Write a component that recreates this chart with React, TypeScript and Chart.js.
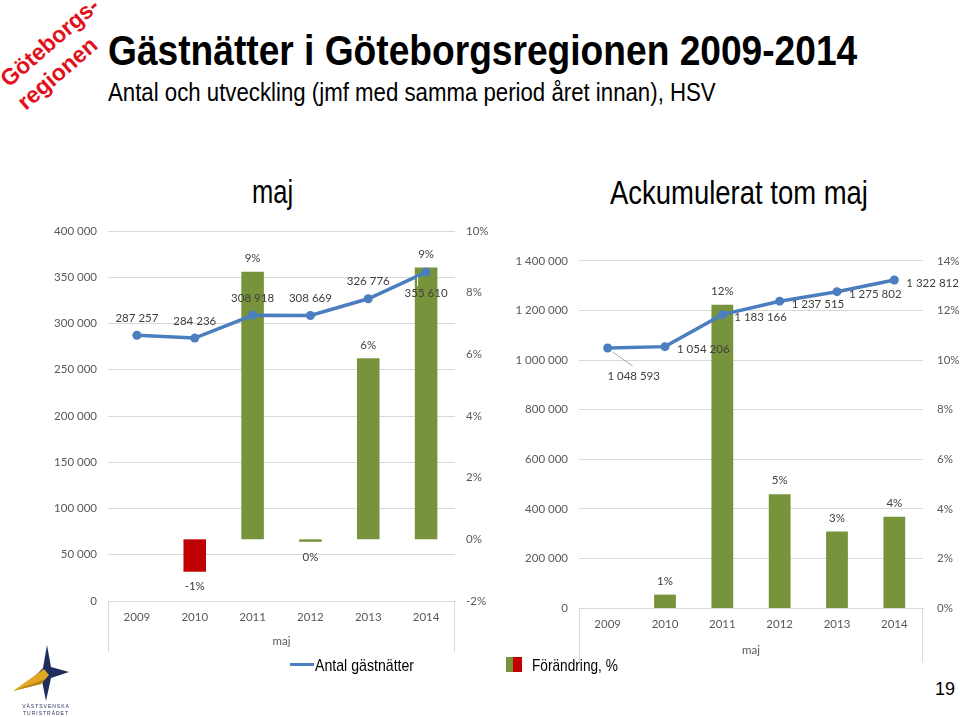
import React, { useEffect, useLayoutEffect, useRef } from 'react';
import { Chart, registerables } from 'chart.js';

Chart.register(...registerables);

// ---------- data ----------
const years = ['2009', '2010', '2011', '2012', '2013', '2014'];
const majNights = [287257, 284236, 308918, 308669, 326776, 355610];
const majChange = [null, -1.05, 8.68, -0.08, 5.87, 8.82];
const accNights = [1048593, 1054206, 1183166, 1237515, 1275802, 1322812];
const accChange = [null, 0.54, 12.23, 4.59, 3.09, 3.68];

const majNightsAxis = [0, 400000, 50000];
const majChangeAxis = [-2, 10, 2];
const accNightsAxis = [0, 1400000, 200000];
const accChangeAxis = [0, 14, 2];

const majLineLabelPos = ['above', 'above', 'above', 'above', 'above', 'below'];
const accLineLabelPos = ['leader', 'right', 'right', 'right', 'right', 'right'];

const axisCategoryTitle = 'maj';
const lineSeriesName = 'Antal gästnätter';
const barSeriesName = 'Förändring, %';

// ---------- styles ----------
const BLUE = '#4A7EBF';
const GREEN = '#77933C';
const RED = '#C00000';
const GRID = '#D9D9D9';
const TICK = '#595959';
const LABEL = '#404040';
const FONT = 'Lato';

const majBarColors = [GREEN, RED, GREEN, GREEN, GREEN, GREEN];
const accBarColors = [GREEN, GREEN, GREEN, GREEN, GREEN, GREEN];

function fmt(n: number) {
  return String(Math.round(n)).replace(/\B(?=(\d{3})+(?!\d))/g, ' ');
}

const slidePlugin = {
  id: 'slideLabels',
  afterDatasetsDraw(chart: any, _args: any, opts: any) {
    const ctx = chart.ctx;
    ctx.save();
    ctx.font = `11.5px ${FONT}`;
    ctx.fillStyle = LABEL;
    ctx.textBaseline = 'middle';
    const barMeta = chart.getDatasetMeta(1);
    const barData = chart.data.datasets[1].data;
    barMeta.data.forEach((el: any, i: number) => {
      const v = barData[i];
      if (v == null) return;
      ctx.textAlign = 'center';
      const t = `${Math.round(v)}%`;
      ctx.fillText(t, el.x, v >= 0 ? el.y - 13.5 : el.y + 15);
    });
    const lineMeta = chart.getDatasetMeta(0);
    const lineData = chart.data.datasets[0].data;
    const pos: string[] = opts.linePos || [];
    lineMeta.data.forEach((el: any, i: number) => {
      const t = fmt(lineData[i]);
      const p = pos[i];
      if (p === 'above') {
        ctx.textAlign = 'center';
        ctx.fillText(t, el.x, el.y - 17);
      } else if (p === 'below') {
        ctx.strokeStyle = '#FFFFFF';
        ctx.lineWidth = 1;
        ctx.beginPath();
        ctx.moveTo(el.x - 8.5, el.y + 5);
        ctx.lineTo(el.x - 8.5, el.y + 14);
        ctx.stroke();
        ctx.textAlign = 'center';
        ctx.fillText(t, el.x, el.y + 21);
      } else if (p === 'right') {
        ctx.textAlign = 'left';
        ctx.fillText(t, el.x + 12, el.y + 3);
      } else if (p === 'leader') {
        ctx.strokeStyle = '#A6A6A6';
        ctx.lineWidth = 1;
        ctx.beginPath();
        ctx.moveTo(el.x + 5, el.y + 4);
        ctx.lineTo(el.x + 25, el.y + 18);
        ctx.stroke();
        ctx.textAlign = 'center';
        ctx.fillText(t, el.x + 26, el.y + 28);
      }
    });
    ctx.restore();
  },
  afterDraw(chart: any, _args: any, opts: any) {
    const ctx = chart.ctx;
    const a = chart.chartArea;
    ctx.save();
    ctx.strokeStyle = GRID;
    ctx.lineWidth = 1;
    ctx.beginPath();
    const l = Math.round(a.left) + 0.5;
    const r = Math.round(a.right) - 0.5;
    ctx.moveTo(l, a.bottom);
    ctx.lineTo(l, a.bottom + opts.sepLen);
    ctx.moveTo(r, a.bottom);
    ctx.lineTo(r, a.bottom + opts.sepLen);
    ctx.stroke();
    ctx.font = `11.5px ${FONT}`;
    ctx.fillStyle = TICK;
    ctx.textAlign = 'center';
    ctx.textBaseline = 'middle';
    ctx.fillText(axisCategoryTitle, (a.left + a.right) / 2, a.bottom + opts.titleOffset);
    ctx.restore();
  },
};

type Cfg = {
  nights: number[];
  change: (number | null)[];
  barColors: string[];
  yAxis: number[];
  y1Axis: number[];
  yWidth: number;
  y1Width: number;
  y1Pad: number;
  topPad: number;
  xHeight: number;
  linePos: string[];
  sepLen: number;
  titleOffset: number;
  barPct: number;
};

function ComboChart({ cfg, left, top, width, height }: { cfg: Cfg; left: number; top: number; width: number; height: number }) {
  const ref = useRef<HTMLCanvasElement>(null);
  useEffect(() => {
    const canvas = ref.current!;
    const chart = new Chart(canvas, {
      type: 'bar',
      data: {
        labels: years,
        datasets: [
          {
            type: 'line',
            label: lineSeriesName,
            data: cfg.nights,
            yAxisID: 'y',
            borderColor: BLUE,
            backgroundColor: BLUE,
            borderWidth: 3.5,
            pointRadius: 4.5,
            pointBackgroundColor: BLUE,
            pointBorderWidth: 0,
            tension: 0,
            order: 0,
          } as any,
          {
            type: 'bar',
            label: barSeriesName,
            data: cfg.change,
            yAxisID: 'y1',
            backgroundColor: cfg.barColors,
            barPercentage: cfg.barPct,
            categoryPercentage: 1,
            order: 1,
          } as any,
        ],
      },
      options: {
        responsive: false,
        animation: false,
        layout: { padding: { top: cfg.topPad, left: 0, right: 0, bottom: 0 } },
        plugins: {
          legend: { display: false },
          tooltip: { enabled: false },
          title: { display: false },
          slideLabels: { linePos: cfg.linePos, sepLen: cfg.sepLen, titleOffset: cfg.titleOffset },
        } as any,
        scales: {
          x: {
            type: 'category',
            offset: true,
            grid: { display: false, drawTicks: false },
            border: { display: true, color: GRID },
            ticks: { color: TICK, font: { family: FONT, size: 11.5 }, padding: 9, maxRotation: 0 },
            afterFit: (s: any) => { s.height = cfg.xHeight; },
          },
          y: {
            position: 'left',
            min: cfg.yAxis[0],
            max: cfg.yAxis[1],
            ticks: { stepSize: cfg.yAxis[2], color: TICK, font: { family: FONT, size: 11.5 }, padding: 11, callback: (v: any) => fmt(Number(v)) },
            grid: { color: GRID, drawTicks: false },
            border: { display: false },
            afterFit: (s: any) => { s.width = cfg.yWidth; },
          },
          y1: {
            position: 'right',
            min: cfg.y1Axis[0],
            max: cfg.y1Axis[1],
            ticks: { stepSize: cfg.y1Axis[2], color: TICK, font: { family: FONT, size: 11.5 }, padding: cfg.y1Pad, callback: (v: any) => `${v}%` },
            grid: { display: false, drawTicks: false },
            border: { display: false },
            afterFit: (s: any) => { s.width = cfg.y1Width; },
          },
        },
      } as any,
      plugins: [slidePlugin as any],
    });
    return () => chart.destroy();
  }, []);
  return <canvas ref={ref} width={width} height={height} style={{ position: 'absolute', left, top, width, height }} />;
}

function FitText({ text, left, baseline, width, size, weight = 400, color = '#000', rotate = 0, center = false }: any) {
  const ref = useRef<HTMLSpanElement>(null);
  const asc = 0.8465 * size;
  useLayoutEffect(() => {
    const el = ref.current!;
    el.style.transform = 'none';
    const w = el.offsetWidth;
    const s = w > 0 ? width / w : 1;
    el.style.transform = `${rotate ? `rotate(${rotate}deg) ` : ''}scaleX(${s})`;
  }, []);
  const x = center ? left - width / 2 : left;
  return (
    <span
      ref={ref}
      style={{
        position: 'absolute',
        left: x,
        top: baseline - asc,
        fontFamily: '"Liberation Sans", Arial, sans-serif',
        fontSize: size,
        lineHeight: `${size}px`,
        fontWeight: weight,
        color,
        whiteSpace: 'nowrap',
        display: 'inline-block',
        transformOrigin: `0 ${asc}px`,
      }}
    >
      {text}
    </span>
  );
}

function Logo() {
  return (
    <svg width={120} height={87} style={{ position: 'absolute', left: 0, top: 630 }} viewBox="0 630 120 87">
      <polygon points="47,645 51,667 69,672 51,678 46,701 42,681 34,677 43,668" fill="#1F2D5C" />
      <polygon points="13,691 44,669 49,675 41,684" fill="#E3A823" />
      <polygon points="13,691 41,684 45,679" fill="#B8841A" />
      <text x={46} y={708} fontSize={5} letterSpacing={1} textAnchor="middle" fill="#1F2D5C" fontFamily="Liberation Sans">VÄSTSVENSKA</text>
      <text x={46} y={714.5} fontSize={5} letterSpacing={1} textAnchor="middle" fill="#1F2D5C" fontFamily="Liberation Sans">TURISTRÅDET</text>
    </svg>
  );
}

const majCfg: Cfg = {
  nights: majNights,
  change: majChange,
  barColors: majBarColors,
  yAxis: majNightsAxis,
  y1Axis: majChangeAxis,
  yWidth: 88,
  y1Width: 45,
  y1Pad: 11,
  topPad: 21,
  xHeight: 59,
  linePos: majLineLabelPos,
  sepLen: 51,
  titleOffset: 40.5,
  barPct: 0.39,
};

const accCfg: Cfg = {
  nights: accNights,
  change: accChange,
  barColors: accBarColors,
  yAxis: accNightsAxis,
  y1Axis: accChangeAxis,
  yWidth: 89,
  y1Width: 37,
  y1Pad: 14,
  topPad: 19,
  xHeight: 62,
  linePos: accLineLabelPos,
  sepLen: 54,
  titleOffset: 42,
  barPct: 0.38,
};

export default function App() {
  return (
    <div style={{ position: 'absolute', left: 0, top: 0, width: 960, height: 717, background: '#fff', overflow: 'hidden' }}>
      <FitText text="Göteborgs-" left={9} baseline={88} width={122} size={23} weight={700} color="#E2101A" rotate={-41} />
      <FitText text="regionen" left={26} baseline={111} width={97} size={23} weight={700} color="#E2101A" rotate={-41} />
      <FitText text="Gästnätter i Göteborgsregionen 2009-2014" left={108} baseline={66} width={749} size={42} weight={700} />
      <FitText text="Antal och utveckling (jmf med samma period året innan), HSV" left={108} baseline={101} width={608} size={25} />
      <FitText text="maj" left={272} baseline={203} width={41} size={33} center />
      <FitText text="Ackumulerat tom maj" left={610} baseline={204} width={258} size={33} />

      <ComboChart cfg={majCfg} left={20} top={210} width={480} height={450} />
      <ComboChart cfg={accCfg} left={490} top={240} width={470} height={430} />

      <div style={{ position: 'absolute', left: 290, top: 662.5, width: 24, height: 3.5, background: BLUE }} />
      <FitText text={lineSeriesName} left={315} baseline={671} width={99} size={17} />
      <div style={{ position: 'absolute', left: 506, top: 657, width: 7, height: 15, background: GREEN }} />
      <div style={{ position: 'absolute', left: 513, top: 657, width: 9, height: 15, background: RED }} />
      <FitText text={barSeriesName} left={532} baseline={671} width={86} size={17} />

      <Logo />
      <FitText text="19" left={935} baseline={695} width={20} size={18} />
    </div>
  );
}
